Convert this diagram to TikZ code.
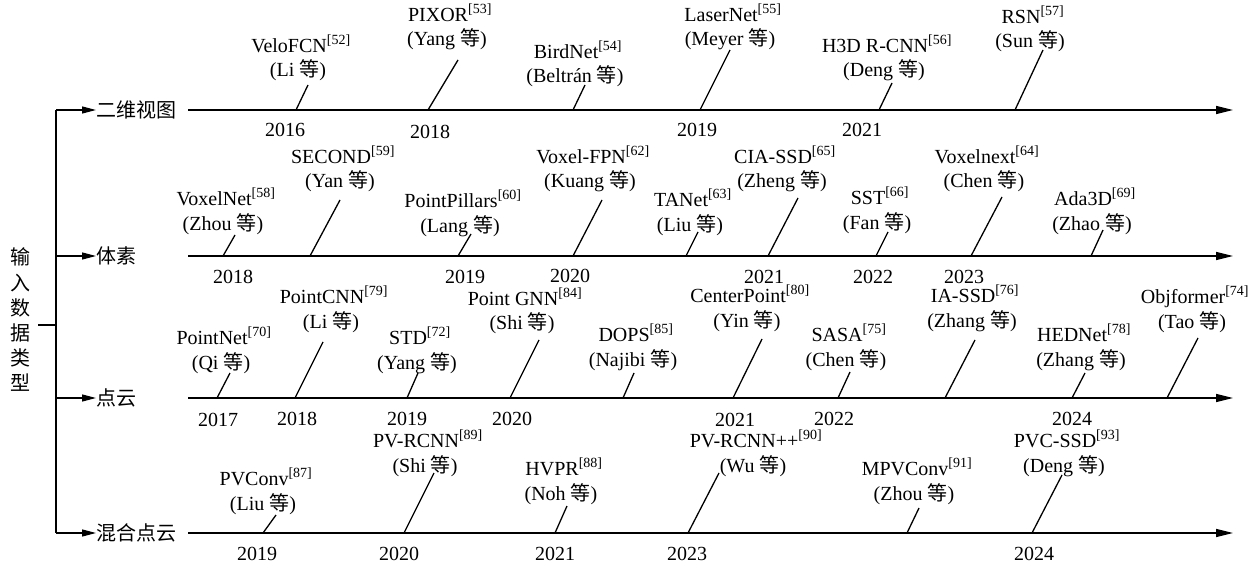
\documentclass[tikz,border=0pt]{standalone}
\usepackage{fontspec}
\setmainfont{Liberation Serif}
\newfontfamily\cjk{Noto Sans CJK SC}
\usetikzlibrary{arrows.meta}

% CJK character used in every author line
\newcommand\deng{{\cjk 等}}
% bracketed reference number
\newcommand\rf[1]{\textsuperscript{[#1]}}

% one method on a timeline:
% #1 id, #2 x of author line, #3 baseline of author line,
% #4 method name, #5 author, #6/#7 top of leader, #8 foot x, #9 axis y
\newcommand\entry[9]{%
  \node[au] (#1a) at (#2,#3) {#5};
  \node[nm] (#1n) at (#2+3,#3-24.5) {#4};
  \coordinate (#1t) at (#6,#7);
  \coordinate (#1b) at (#8,#9);
  \draw[leader] (#1t) -- (#1b);
}

\begin{document}
\begin{tikzpicture}[x=1pt,y=-1pt,
  every node/.style={inner sep=0pt,outer sep=0pt},
  au/.style={anchor=base,font=\fontsize{20}{24}\selectfont},
  nm/.style={anchor=base,font=\fontsize{20}{24}\selectfont},
  yr/.style={anchor=base,font=\fontsize{20}{24}\selectfont},
  cat/.style={anchor=west,font=\cjk\fontsize{20}{24}\selectfont},
  leader/.style={line width=1.3pt},
  axisline/.style={line width=1.5pt,-{Triangle[length=17pt,width=8pt]}},
  branch/.style={line width=1.3pt,-{Triangle[length=14pt,width=7pt]}},
  plain/.style={line width=1.3pt}]
\useasboundingbox (0,0) rectangle (1260,564);

% ---- vertical title and bracket ----
\node[font=\cjk\fontsize{20}{25.2}\selectfont,align=center] (title) at (20,320)
  {输\\入\\数\\据\\类\\型};
\coordinate (tickL) at (38,325);
\coordinate (tickR) at (56,325);
\draw[plain] (tickL) -- (tickR);
\coordinate (brTop) at (56,110);
\coordinate (brVox) at (56,256);
\coordinate (brPts) at (56,398);
\coordinate (brBot) at (56,533);
\draw[plain] (brTop) -- (brBot);

\node[cat] (cat1) at (96,110) {二维视图};
\node[cat] (cat2) at (96,256) {体素};
\node[cat] (cat3) at (96,398) {点云};
\node[cat] (cat4) at (96,533) {混合点云};
\draw[branch] (brTop) -- (cat1.west);
\draw[branch] (brVox) -- (cat2.west);
\draw[branch] (brPts) -- (cat3.west);
\draw[branch] (brBot) -- (cat4.west);

% ---- timeline axes ----
\coordinate (a1s) at (188,110); \coordinate (a1e) at (1233,110);
\coordinate (a2s) at (188,256); \coordinate (a2e) at (1233,256);
\coordinate (a3s) at (188,398); \coordinate (a3e) at (1233,398);
\coordinate (a4s) at (188,533); \coordinate (a4e) at (1233,533);
\draw[axisline] (a1s) -- (a1e);
\draw[axisline] (a2s) -- (a2e);
\draw[axisline] (a3s) -- (a3e);
\draw[axisline] (a4s) -- (a4e);

% ---- 2D view ----
\entry{velo}{298}{77}{VeloFCN\rf{52}}{(Li \deng)}{308}{85}{296}{110}
\entry{pixor}{447}{46}{PIXOR\rf{53}}{(Yang \deng)}{458}{60}{428}{110}
\entry{bird}{575}{83}{BirdNet\rf{54}}{(Beltrán \deng)}{585}{85}{573}{110}
\entry{laser}{730}{46}{LaserNet\rf{55}}{(Meyer \deng)}{730}{50}{700}{110}
\entry{hthree}{884}{77}{H3D R-CNN\rf{56}}{(Deng \deng)}{892}{83}{879}{110}
\entry{rsn}{1030}{48}{RSN\rf{57}}{(Sun \deng)}{1043}{50}{1015}{110}
\node[yr] (y1a) at (285,137) {2016};
\node[yr] (y1b) at (430,139) {2018};
\node[yr] (y1c) at (697,137) {2019};
\node[yr] (y1d) at (862,137) {2021};

% ---- voxel ----
\entry{vnet}{223}{230}{VoxelNet\rf{58}}{(Zhou \deng)}{235}{235}{223}{256}
\entry{second}{340}{188}{SECOND\rf{59}}{(Yan \deng)}{340}{200}{310}{256}
\entry{pillar}{460}{232}{PointPillars\rf{60}}{(Lang \deng)}{471}{234}{458}{256}
\entry{vfpn}{590}{188}{Voxel-FPN\rf{62}}{(Kuang \deng)}{602}{200}{573}{256}
\entry{tanet}{690}{231}{TANet\rf{63}}{(Liu \deng)}{698}{232}{686}{256}
\entry{cia}{782}{188}{CIA-SSD\rf{65}}{(Zheng \deng)}{798}{198}{768}{256}
\entry{sst}{877}{229}{SST\rf{66}}{(Fan \deng)}{888}{232}{876}{256}
\entry{vnext}{984}{188}{Voxelnext\rf{64}}{(Chen \deng)}{1002}{197}{971}{256}
\entry{ada}{1092}{230}{Ada3D\rf{69}}{(Zhao \deng)}{1103}{230}{1091}{256}
\node[yr] (y2a) at (233,283) {2018};
\node[yr] (y2b) at (465,283) {2019};
\node[yr] (y2c) at (570,282.5) {2020};
\node[yr] (y2d) at (764,283) {2021};
\node[yr] (y2e) at (873,283) {2022};
\node[yr] (y2f) at (964,283) {2023};

% ---- point cloud ----
\entry{pnet}{221}{369}{PointNet\rf{70}}{(Qi \deng)}{230}{373}{217}{398}
\entry{pcnn}{331}{328}{PointCNN\rf{79}}{(Li \deng)}{323}{342}{295}{398}
\entry{std}{417}{369}{STD\rf{72}}{(Yang \deng)}{418}{373}{407}{398}
\entry{pgnn}{522}{329.5}{Point GNN\rf{84}}{(Shi \deng)}{539}{340}{510}{398}
\entry{dops}{633}{366}{DOPS\rf{85}}{(Najibi \deng)}{634}{373}{623}{398}
\entry{cpt}{747}{327}{CenterPoint\rf{80}}{(Yin \deng)}{762}{339}{733}{398}
\entry{sasa}{846}{366}{SASA\rf{75}}{(Chen \deng)}{850}{372}{838}{398}
\entry{iassd}{972}{327}{IA-SSD\rf{76}}{(Zhang \deng)}{975}{340}{945}{398}
\entry{hed}{1081}{366}{HEDNet\rf{78}}{(Zhang \deng)}{1085}{373}{1072}{398}
\entry{objf}{1192}{328}{Objformer\rf{74}}{(Tao \deng)}{1198}{338}{1167}{398}
\node[yr] (y3a) at (218,426) {2017};
\node[yr] (y3b) at (297,425) {2018};
\node[yr] (y3c) at (407,425) {2019};
\node[yr] (y3d) at (512,425) {2020};
\node[yr] (y3e) at (735,426) {2021};
\node[yr] (y3f) at (834,425) {2022};
\node[yr] (y3g) at (1072,425) {2024};

% ---- hybrid point cloud ----
\entry{pvconv}{263}{510}{PVConv\rf{87}}{(Liu \deng)}{276}{515}{263}{533}
\entry{pvr}{425}{472}{PV-RCNN\rf{89}}{(Shi \deng)}{434}{473}{404}{533}
\entry{hvpr}{561}{500}{HVPR\rf{88}}{(Noh \deng)}{567}{506}{555}{533}
\entry{pvrpp}{753}{472}{PV-RCNN++\rf{90}}{(Wu \deng)}{719}{473}{688}{533}
\entry{mpv}{914}{500}{MPVConv\rf{91}}{(Zhou \deng)}{919}{508}{907}{533}
\entry{pvc}{1064}{472}{PVC-SSD\rf{93}}{(Deng \deng)}{1062}{475}{1032}{533}
\node[yr] (y4a) at (257,560) {2019};
\node[yr] (y4b) at (399,560) {2020};
\node[yr] (y4c) at (555,560) {2021};
\node[yr] (y4d) at (687,560) {2023};
\node[yr] (y4e) at (1034,560) {2024};
\end{tikzpicture}
\end{document}
